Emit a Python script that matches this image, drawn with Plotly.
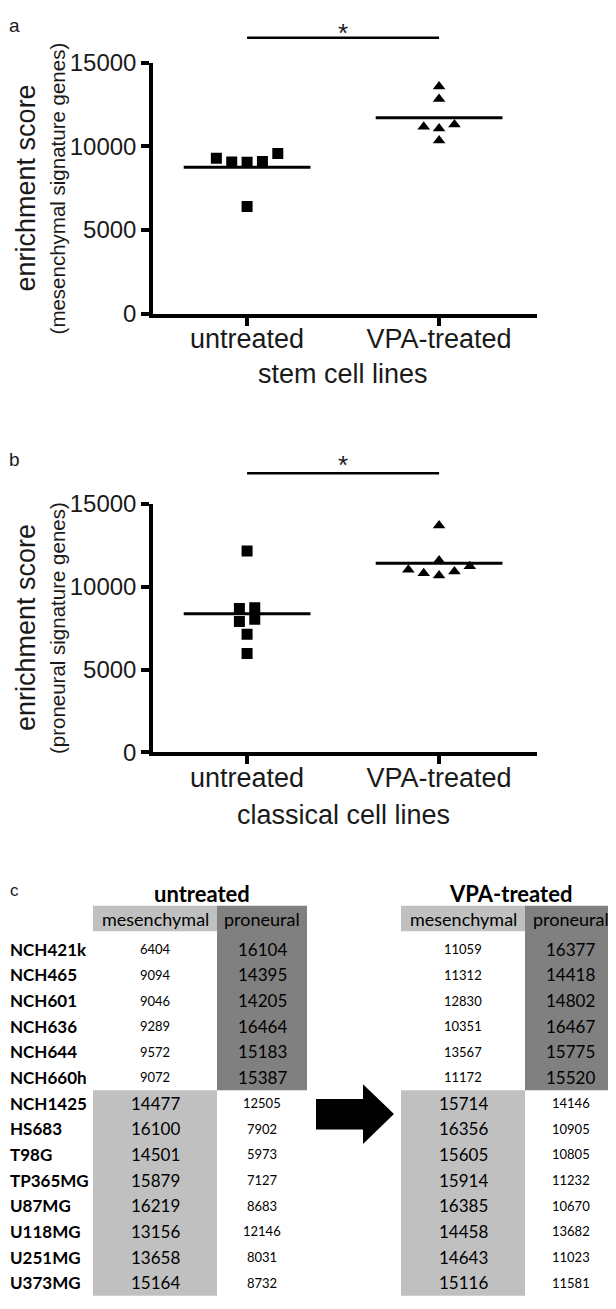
import plotly.graph_objects as go

# cell lines and enrichment scores (table c)
cell_lines = ["NCH421k", "NCH465", "NCH601", "NCH636", "NCH644", "NCH660h",
              "NCH1425", "HS683", "T98G", "TP365MG", "U87MG", "U118MG", "U251MG", "U373MG"]
n_stem = 6  # first six are the stem cell lines, the rest classical
untreated_mes = [6404, 9094, 9046, 9289, 9572, 9072, 14477, 16100, 14501, 15879, 16219, 13156, 13658, 15164]
untreated_pro = [16104, 14395, 14205, 16464, 15183, 15387, 12505, 7902, 5973, 7127, 8683, 12146, 8031, 8732]
vpa_mes = [11059, 11312, 12830, 10351, 13567, 11172, 15714, 16356, 15605, 15914, 16385, 14458, 14643, 15116]
vpa_pro = [16377, 14418, 14802, 16467, 15775, 15520, 14146, 10905, 10805, 11232, 10670, 13682, 11023, 11581]

groups = ["untreated", "VPA-treated"]
y_ticks = [0, 5000, 10000, 15000]

# panel a: stem lines, mesenchymal score; panel b: classical lines (without NCH1425), proneural score
a_untreated = untreated_mes[:n_stem]
a_vpa = vpa_mes[:n_stem]
b_untreated = untreated_pro[n_stem + 1:]
b_vpa = vpa_pro[n_stem + 1:]

# page is 616x1309 but the body has an 8px margin, so the figure is drawn a bit smaller
# and positions below are given in page pixels
OFF = 8
W, H = 616 - 2 * OFF, 1309 - 2 * OFF
def px(x):
    return (x - OFF) / W
def py(y):
    return 1 - (y - OFF) / H

AX_FONT = "Liberation Sans, Arial, sans-serif"
TB_FONT = "Lato, Open Sans, sans-serif"
INK = "#1a1a1a"


def swarm(vals, row_h=700, step=0.08):
    # simple column-scatter layout: group close values into rows, spread each row centre-out
    order = sorted(range(len(vals)), key=lambda i: vals[i])
    rows = []
    for i in order:
        if rows and vals[i] - vals[rows[-1][0]] < row_h:
            rows[-1].append(i)
        else:
            rows.append([i])
    offs = [0.0] * len(vals)
    for row in rows:
        k = len(row)
        if k % 2:
            slots = [0]
            for j in range(1, k):
                slots.append(-((j + 1) // 2) if j % 2 else (j // 2))
        else:
            slots = []
            for j in range(k):
                m = j // 2 + 0.5
                slots.append(-m if j % 2 == 0 else m)
        for i, s in zip(row, slots):
            offs[i] = s * step
    return offs


def label(text, x, y, size, family=AX_FONT, color=INK, xref="paper", **kw):
    d = dict(text=text, xref=xref, yref="paper", x=x, y=y, showarrow=False,
             xanchor="center", yanchor="middle", font=dict(family=family, size=size, color=color))
    d.update(kw)
    return d


fig = go.Figure()

panels = [
    ("x", "y", a_untreated, a_vpa),
    ("x2", "y2", b_untreated, b_vpa),
]
for xa, ya, unt, vpa in panels:
    for gi, (vals, sym) in enumerate([(unt, "square"), (vpa, "triangle-up")]):
        offs = swarm(vals)
        fig.add_trace(go.Scatter(
            x=[gi + o for o in offs], y=vals, mode="markers", xaxis=xa, yaxis=ya,
            marker=dict(symbol=sym, size=11, color="black", line=dict(width=0)),
            hoverinfo="y"))
        mean = sum(vals) / len(vals)
        fig.add_trace(go.Scatter(
            x=[gi - 0.33, gi + 0.33], y=[mean, mean], mode="lines", xaxis=xa, yaxis=ya,
            line=dict(color="black", width=3), hoverinfo="skip"))

axis_common = dict(showgrid=False, zeroline=False, showline=True, linecolor="black",
                   linewidth=3.5, ticks="outside", ticklen=8, tickwidth=3.5, tickcolor="black")
xaxis_common = dict(axis_common, range=[-0.49, 1.51], tickvals=[0, 1], ticktext=groups,
                    ticklabelstandoff=-10,
                    tickfont=dict(family=AX_FONT, size=27, color=INK))
yaxis_common = dict(axis_common, range=[0, 15000], tickvals=y_ticks,
                    ticktext=[str(v) for v in y_ticks],
                    tickfont=dict(family=AX_FONT, size=24, color=INK))

fig.update_layout(
    width=W, height=H, margin=dict(l=0, r=0, t=0, b=0, pad=0), autosize=False,
    paper_bgcolor="white", plot_bgcolor="white", showlegend=False,
    xaxis=dict(xaxis_common, domain=[px(153), px(537)], anchor="y"),
    yaxis=dict(yaxis_common, domain=[py(306), py(49.5)], anchor="x"),
    xaxis2=dict(xaxis_common, domain=[px(153), px(537)], anchor="y2"),
    yaxis2=dict(yaxis_common, domain=[py(754), py(500)], anchor="x2"),
)

ann = []
shapes = []

# significance bars, axis titles, panel letters
for xr, letter, ly, star_y, bar_y, mid_y, lab_y, title, sub in [
    ("x", "a", 12, 19, 24, 178, 368, "stem cell lines", "(mesenchymal signature genes)"),
    ("x2", "b", 455, 460, 469, 627, 818, "classical cell lines", "(proneural signature genes)"),
]:
    shapes.append(dict(type="line", xref=xr, yref="paper", x0=0, x1=1, y0=py(bar_y), y1=py(bar_y),
                       line=dict(color="black", width=2.5)))
    ann.append(label("*", 0.5, py(star_y), 26, xref=xr))
    ann.append(label(letter, px(14), py(ly), 19))
    ann.append(label(title, 0.5, py(lab_y), 27, xref=xr))
    ann.append(label("enrichment score", px(26), py(mid_y), 27, textangle=-90))
    ann.append(label(sub, px(57), py(mid_y), 20.5, textangle=-90))

# table c
LIGHT, DARK = "#c0c0c0", "#808080"
row0, pitch = 955, 26.2
head_top, head_y, title_y = 910.7, 923.7, 898
stem_bottom = row0 + pitch * (n_stem - 1) + pitch / 2
ann.append(label("c", px(14), py(895), 17))

blocks = [
    ("untreated", untreated_mes, untreated_pro, (93, 217, 307)),
    ("VPA-treated", vpa_mes, vpa_pro, (401, 525, 616)),
]
for name, mes, pro, (x0, x1, x2) in blocks:
    shapes.append(dict(type="rect", xref="paper", yref="paper", layer="below",
                       x0=px(x0), x1=px(x1), y0=py(head_top + 26), y1=py(head_top),
                       fillcolor=LIGHT, line=dict(width=0)))
    shapes.append(dict(type="rect", xref="paper", yref="paper", layer="below",
                       x0=px(x1), x1=px(x2), y0=py(stem_bottom), y1=py(head_top),
                       fillcolor=DARK, line=dict(width=0)))
    shapes.append(dict(type="rect", xref="paper", yref="paper", layer="below",
                       x0=px(x0), x1=px(x1), y0=py(1309), y1=py(stem_bottom),
                       fillcolor=LIGHT, line=dict(width=0)))
    cm, cp = (x0 + x1) / 2, (x1 + x2) / 2
    ann.append(label("<b>%s</b>" % name, px((x0 + x2) / 2 + 2), py(title_y), 22, TB_FONT, "black"))
    for text, cx in [("mesenchymal", cm), ("proneural", cp)]:
        ann.append(label(text, px(cx), py(head_y), 18, TB_FONT, "black"))
    for i in range(len(cell_lines)):
        stem = i < n_stem
        yy = py(row0 + pitch * i)
        ann.append(label(str(mes[i]), px(cm), yy, 13 if stem else 17, TB_FONT, "black"))
        ann.append(label(str(pro[i]), px(cp), yy, 17 if stem else 13, TB_FONT, "black"))

for i, name in enumerate(cell_lines):
    ann.append(label("<b>%s</b>" % name, px(OFF), py(row0 + pitch * i), 17, TB_FONT, "black",
                     xanchor="left"))

# arrow between the two tables
pts = [(316, 1108), (363, 1108), (363, 1093), (394, 1123.3), (363, 1154), (363, 1139), (316, 1139)]
path = "M " + " L ".join("%.5f,%.5f" % (px(a), py(b)) for a, b in pts) + " Z"
shapes.append(dict(type="path", xref="paper", yref="paper", path=path,
                   fillcolor="black", line=dict(width=0)))

fig.update_layout(annotations=ann, shapes=shapes)
fig.write_html("out.html")
